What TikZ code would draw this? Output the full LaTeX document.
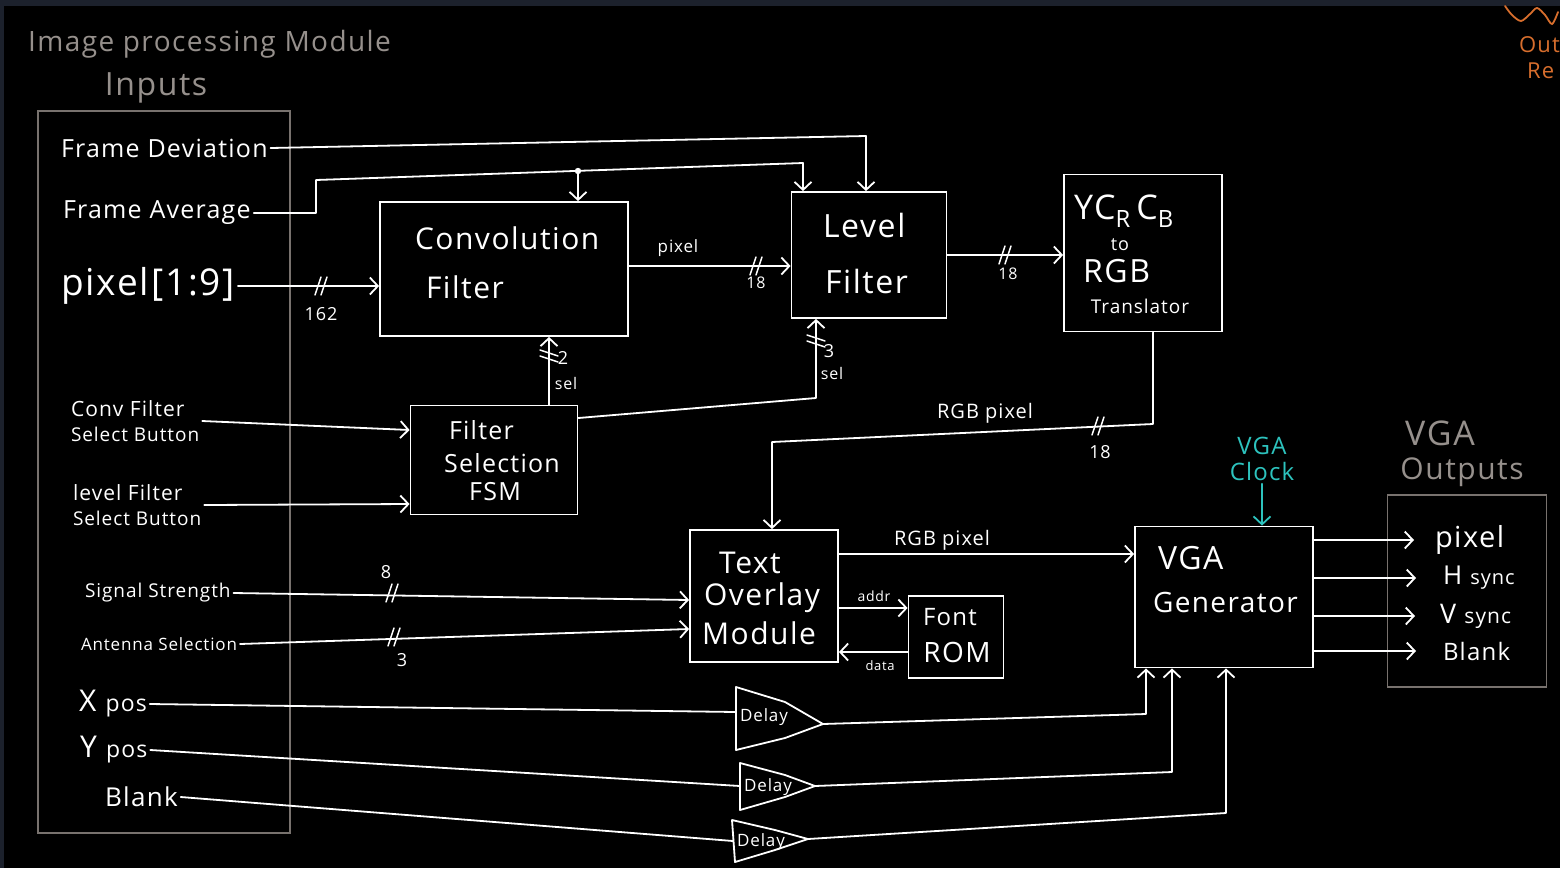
\documentclass[tikz,border=0pt]{standalone}
\usepackage{fontspec}
\setmainfont{Open Sans}[LetterSpace=5]
\usetikzlibrary{arrows.meta}
\definecolor{topbar}{RGB}{28,33,44}
\definecolor{penGray}{RGB}{120,114,110}
\definecolor{txtGray}{RGB}{150,144,140}
\definecolor{penCyan}{RGB}{45,195,190}
\definecolor{penOrange}{RGB}{215,110,45}
\newcommand{\fsz}[2]{\fontsize{#1}{#2}\selectfont}
\begin{document}
\begin{tikzpicture}[x=1pt,y=-1pt,
  wire/.style={draw=white,line width=1.8pt,line cap=round,line join=round},
  arr/.style={wire,-{Straight Barb[length=8pt,width=17pt]}},
  block/.style={draw=white,line width=1.8pt,rectangle,inner sep=0pt},
  gbox/.style={draw=penGray,line width=1.8pt,rectangle,inner sep=0pt},
  txt/.style={text=white,inner sep=0pt,outer sep=3pt},
  gtxt/.style={text=txtGray,inner sep=0pt},
  busmark/.pic={\draw[white,line width=1.5pt,line cap=round] (-7,9) -- (-1,-9) (-1,9) -- (5,-9);},
  delaybox/.style={draw=white,line width=1.8pt,line join=round}
]
\useasboundingbox (0,0) rectangle (1560,868);
\fill[black] (0,0) rectangle (1560,868);
\fill[topbar] (0,0) rectangle (1560,6);
\fill[topbar] (0,0) rectangle (4,868);

% orange fragment top right
\draw[penOrange,line width=1.8pt,line cap=round] plot[smooth] coordinates {(1505,6) (1512,15) (1521,21) (1530,14) (1537,8) (1545,15) (1552,24) (1558,12)};
\node[text=penOrange,inner sep=0pt,anchor=west] (outR) at (1519,45) {\fsz{22}{24}Out};
\node[text=penOrange,inner sep=0pt,anchor=west] (regR) at (1527,71) {\fsz{22}{24}Re};

% headings
\node[gtxt,anchor=west] (title) at (28,44) {\fsz{28}{30}Image processing Module};
\node[gtxt] (inhead) at (156,88) {\fsz{32}{34}Inputs};
\node[gbox,minimum width=252pt,minimum height=722pt] (inbox) at (164,472) {};

% input labels
\node[txt,anchor=west] (fd) at (58,148) {\fsz{25}{28}Frame Deviation};
\node[txt,anchor=west] (fa) at (60,213) {\fsz{25}{28}Frame Average};
\node[txt,anchor=west] (px) at (58,286) {\fsz{37}{40}pixel[1:9]};
\node[txt,anchor=west,align=left,font=\fsz{21}{25}] (cfs) at (68,421) {Conv Filter\\{\fsz{19}{25}Select Button}};
\node[txt,anchor=west,align=left,font=\fsz{21}{25}] (lfs) at (70,505) {level Filter\\{\fsz{19}{25}Select Button}};
\node[txt,anchor=west] (ss) at (82,593) {\fsz{19}{21}Signal Strength};
\node[txt,anchor=west] (ant) at (78,644) {\fsz{17}{19}Antenna Selection};
\node[txt,anchor=west] (xp) at (76,704) {\fsz{30}{32}X \fsz{23}{25}pos};
\node[txt,anchor=west] (yp) at (77,750) {\fsz{30}{32}Y \fsz{23}{25}pos};
\node[txt,anchor=west] (bl) at (102,797) {\fsz{26}{28}Blank};

% blocks
\node[block,minimum width=248pt,minimum height=134pt] (conv) at (504,269) {};
\node[block,minimum width=155pt,minimum height=126pt] (lvl) at (869,255) {};
\node[block,minimum width=158pt,minimum height=157pt] (ycc) at (1143,253) {};
\node[block,minimum width=167pt,minimum height=109pt] (fsm) at (494,460) {};
\node[block,minimum width=148pt,minimum height=132pt] (tom) at (764,596) {};
\node[block,minimum width=95pt,minimum height=82pt] (rom) at (956,637) {};
\node[block,minimum width=178pt,minimum height=141pt] (vga) at (1224,597) {};
\node[gbox,minimum width=159pt,minimum height=192pt] (outs) at (1467,591) {};

% block texts
\node[txt,anchor=west] (convA) at (412,238) {\fsz{30}{32}Convolution};
\node[txt,anchor=west] (convB) at (423,287) {\fsz{30}{32}Filter};
\node[txt,anchor=west] (lvlA) at (820,225) {\fsz{32}{34}Level};
\node[txt,anchor=west] (lvlB) at (822,281) {\fsz{32}{34}Filter};
\node[txt,anchor=west] (yccA) at (1071,211) {\fsz{34}{36}YC\textsubscript{R}\,C\textsubscript{B}};
\node[txt] (yccB) at (1120,245) {\fsz{18}{20}to};
\node[txt,anchor=west] (yccC) at (1080,271) {\fsz{32}{34}RGB};
\node[txt] (yccD) at (1140,306) {\fsz{19}{21}Translator};
\node[txt,anchor=west] (fsmA) at (446,430) {\fsz{25}{27}Filter};
\node[txt] (fsmB) at (502,463) {\fsz{25}{27}Selection};
\node[txt] (fsmC) at (495,492) {\fsz{25}{27}FSM};
\node[txt] (tomA) at (750,563) {\fsz{30}{32}Text};
\node[txt] (tomB) at (762,598) {\fsz{30}{32}Overlay};
\node[txt] (tomC) at (759,633) {\fsz{30}{32}Module};
\node[txt] (romA) at (950,617) {\fsz{24}{26}Font};
\node[txt] (romB) at (957,652) {\fsz{28}{30}ROM};
\node[txt,anchor=west] (vgaA) at (1155,558) {\fsz{32}{34}VGA};
\node[txt,anchor=west] (vgaB) at (1150,602) {\fsz{28}{30}Generator};
\node[gtxt] (outsA) at (1440,433) {\fsz{34}{36}VGA};
\node[gtxt] (outsB) at (1462,472) {\fsz{30}{32}Outputs};
\node[text=penCyan,inner sep=0pt,outer sep=3pt,align=center,font=\fsz{24}{26}] (clk) at (1262,459) {VGA\\Clock};
\node[txt,anchor=west] (o1) at (1432,540) {\fsz{29}{31}pixel};
\node[txt,anchor=west] (o2) at (1440,578) {\fsz{26}{28}H \fsz{20}{22}sync};
\node[txt,anchor=west] (o3) at (1437,616) {\fsz{27}{29}V \fsz{21}{23}sync};
\node[txt,anchor=west] (o4) at (1440,651) {\fsz{24}{26}Blank};

% delays
\node[txt] (dA) at (764,717) {\fsz{17}{19}Delay};
\node[txt] (dB) at (768,787) {\fsz{17}{19}Delay};
\node[txt] (dC) at (761,842) {\fsz{17}{19}Delay};
\coordinate (d1in) at (736,712); \coordinate (d1out) at (823,724);
\coordinate (d2in) at (740,786); \coordinate (d2out) at (815,786);
\coordinate (d3in) at (733,841); \coordinate (d3out) at (808,839);
\draw[delaybox] (736,687) -- (785,702) -- (d1out) -- (785,738) -- (736,750) -- cycle;
\draw[delaybox] (740,763) -- (785,775) -- (d2out) -- (785,797) -- (740,810) -- cycle;
\draw[delaybox] (732,820) -- (775,830) -- (d3out) -- (775,850) -- (735,862) -- cycle;

% wire labels
\node[txt] (l162) at (321,314) {\fsz{18}{20}162};
\node[txt] (lpix) at (678,248) {\fsz{17}{19}pixel};
\node[txt] (l18a) at (756,283) {\fsz{16}{18}18};
\node[txt] (l18b) at (1008,274) {\fsz{16}{18}18};
\node[txt] (l2) at (563,358) {\fsz{18}{20}2};
\node[txt] (lsel1) at (566,383) {\fsz{16}{18}sel};
\node[txt] (l3) at (829,351) {\fsz{18}{20}3};
\node[txt] (lsel2) at (832,373) {\fsz{16}{18}sel};
\node[txt] (lrgb1) at (985,413) {\fsz{20}{22}RGB pixel};
\node[txt] (l18c) at (1100,452) {\fsz{18}{20}18};
\node[txt] (lrgb2) at (942,540) {\fsz{20}{22}RGB pixel};
\node[txt] (laddr) at (874,596) {\fsz{14}{16}addr};
\node[txt] (ldata) at (880,666) {\fsz{13}{15}data};
\node[txt] (l8) at (386,572) {\fsz{18}{20}8};
\node[txt] (l3b) at (402,660) {\fsz{18}{20}3};

% connectors
\coordinate (fdb) at (866,136);
\draw[arr] (fd.east) -- (fdb) -- (fdb |- lvl.north);
\coordinate (fa2) at (316,180);
\coordinate (fa3) at (803,163);
\coordinate (fajunc) at (578,171);
\draw[arr] (fa.east) -- (fa.east -| fa2) -- (fa2) -- (fa3) -- (fa3 |- lvl.north);
\fill[white] (fajunc) circle (3.2);
\draw[arr] (fajunc) -- (fajunc |- conv.north);
\draw[arr] (px.east) -- (px.east -| conv.west);
\draw[arr] ([yshift=3pt]conv.east) -- ([yshift=3pt]conv.east -| lvl.west);
\draw[arr] (lvl.east) -- (lvl.east -| ycc.west);
\draw[arr] ([xshift=55pt]fsm.north) -- ([xshift=55pt]fsm.north |- conv.south);
\coordinate (fl) at (816,398);
\draw[arr] ([yshift=42pt]fsm.east) -- (fl) -- (fl |- lvl.south);
\coordinate (r1) at (1153,424);
\coordinate (r3) at (772,442);
\draw[arr] ([xshift=10pt]ycc.south) -- (r1) -- (r3) -- (r3 |- tom.north);
\draw[arr] ([yshift=42pt]tom.east) -- ([yshift=42pt]tom.east -| vga.west);
\draw[arr] ([yshift=-12pt]tom.east) -- ([yshift=-12pt]tom.east -| rom.west);
\draw[arr] ([yshift=-15pt]rom.west) -- ([yshift=-15pt]rom.west -| tom.east);
\draw[arr] (ss.east) -- ([yshift=-4pt]tom.west);
\draw[arr] (ant.east) -- ([yshift=-33pt]tom.west);
\draw[arr] (cfs.east) -- ([yshift=30pt]fsm.west);
\draw[arr] (lfs.east) -- ([yshift=-44pt]fsm.west);
\draw[wire] (xp.east) -- (d1in);
\draw[wire] (yp.east) -- (d2in);
\draw[wire] (bl.east) -- (d3in);
\coordinate (v1) at (1146,714);
\coordinate (v2) at (1172,772);
\coordinate (v3) at (1226,813);
\draw[arr] (d1out) -- (v1) -- (v1 |- vga.south);
\draw[arr] (d2out) -- (v2) -- (v2 |- vga.south);
\draw[arr] (d3out) -- (v3) -- (v3 |- vga.south);
\draw[arr] (vga.east |- o1) -- ([xshift=-18pt]o1.west);
\draw[arr] (vga.east |- o2) -- ([xshift=-24pt]o2.west);
\draw[arr] (vga.east |- o3) -- ([xshift=-22pt]o3.west);
\draw[arr] (vga.east |- o4) -- ([xshift=-24pt]o4.west);
\draw[penCyan,line width=1.8pt,line cap=round,-{Straight Barb[length=8pt,width=17pt]}] (clk.south) -- (clk.south |- vga.north);

% bus marks
\pic at (322,286) {busmark};
\pic at (757,266) {busmark};
\pic at (1006,255) {busmark};
\pic[rotate=90] at (549,355) {busmark};
\pic[rotate=90] at (816,340) {busmark};
\pic at (1099,426) {busmark};
\pic at (393,593) {busmark};
\pic at (395,637) {busmark};
\end{tikzpicture}
\end{document}
